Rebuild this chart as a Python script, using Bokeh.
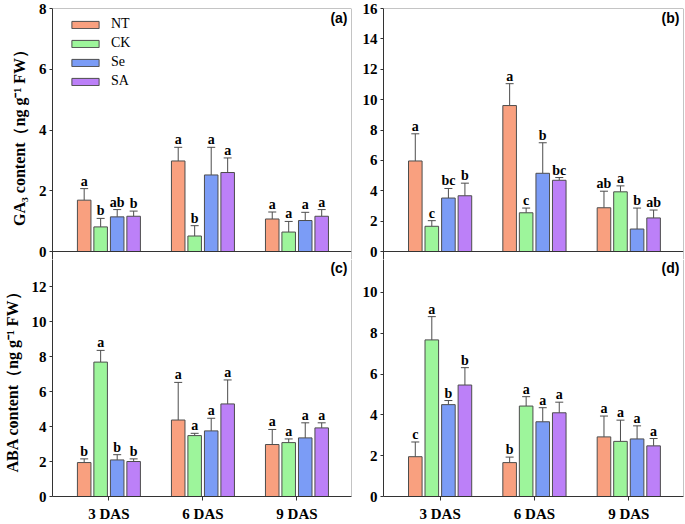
from bokeh.plotting import figure
from bokeh.models import (Range1d, FixedTicker, ColumnDataSource, Whisker, TeeHead,
                          Legend, LegendItem, Label, Span)
from bokeh.layouts import gridplot
from bokeh.core.properties import value
from bokeh.embed import file_html
from bokeh.resources import INLINE

SERIF = "Liberation Serif"
SANS = "Liberation Sans"

treatments = ["NT", "CK", "Se", "SA"]
colors = ["#F9A07F", "#9DF59B", "#7B9CF6", "#BC80F8"]
days = ["3 DAS", "6 DAS", "9 DAS"]

# rows = days, columns = treatments (NT, CK, Se, SA)
a_mean = [[1.69, 0.81, 1.14, 1.16], [2.98, 0.51, 2.52, 2.60], [1.07, 0.64, 1.02, 1.16]]
a_err = [[0.38, 0.28, 0.24, 0.17], [0.45, 0.34, 0.91, 0.48], [0.23, 0.35, 0.27, 0.22]]
a_sig = [["a", "b", "ab", "b"], ["a", "b", "a", "a"], ["a", "a", "a", "a"]]

b_mean = [[5.96, 1.66, 3.52, 3.67], [9.61, 2.55, 5.15, 4.69], [2.88, 3.93, 1.48, 2.21]]
b_err = [[1.79, 0.37, 0.63, 0.83], [1.44, 0.31, 2.01, 0.18], [1.09, 0.39, 1.38, 0.52]]
b_sig = [["a", "c", "bc", "b"], ["a", "c", "b", "bc"], ["ab", "a", "b", "ab"]]

c_mean = [[1.94, 7.68, 2.09, 2.00], [4.37, 3.48, 3.75, 5.29], [2.97, 3.08, 3.35, 3.92]]
c_err = [[0.21, 0.67, 0.30, 0.15], [2.15, 0.13, 0.72, 1.37], [0.86, 0.21, 0.86, 0.29]]
c_sig = [["b", "a", "b", "b"], ["a", "a", "a", "a"], ["a", "a", "a", "a"]]

d_mean = [[1.95, 7.67, 4.50, 5.46], [1.66, 4.43, 3.66, 4.10], [2.92, 2.70, 2.82, 2.48]]
d_err = [[0.72, 1.14, 0.20, 0.85], [0.27, 0.46, 0.69, 0.52], [1.02, 1.04, 0.64, 0.36]]
d_sig = [["c", "a", "b", "b"], ["b", "a", "a", "a"], ["a", "a", "a", "a"]]

a_ticks = [0, 2, 4, 6, 8]
b_ticks = [0, 2, 4, 6, 8, 10, 12, 14, 16]
c_ticks = [0, 2, 4, 6, 8, 10, 12]
d_ticks = [0, 2, 4, 6, 8, 10]
a_max, b_max, c_max, d_max = 8, 16, 14, 12

ga_label = "GA\u2083 content\uff08ng g\u207b\u00b9 FW\uff09"
aba_label = "ABA content\uff08ng g\u207b\u00b9 FW\uff09"

# layout (pixels)
TOP, ZERO, SPLIT, BOTTOM = 8, 251, 259, 496
XB = 28
LBL, RBL = 52, 31
LFW, RFW = 299, 300

offsets = [-0.263, -0.088, 0.088, 0.263]
BAR_W = 0.144
X0, X1 = -0.6, 2.58
AX = "#333333"
EDGE = "#4d4d4d"
OUT = "#8a8a8a"


def panel(mean, err, sig, y0, y1, yticks, tag, width, height, bl, bt, bb,
          ylabel=None, bottom=False):
    p = figure(width=width, height=height, x_range=Range1d(X0, X1),
               y_range=Range1d(y0, y1), output_backend="svg",
               toolbar_location=None, min_border_left=bl, min_border_right=1,
               min_border_top=bt, min_border_bottom=bb)
    p.xgrid.visible = False
    p.ygrid.visible = False
    p.background_fill_color = "white"
    p.border_fill_color = "white"
    p.outline_line_color = None
    renderers = []
    for j, t in enumerate(treatments):
        xs = [i + offsets[j] for i in range(len(days))]
        tops = [mean[i][j] for i in range(len(days))]
        ups = [mean[i][j] + err[i][j] for i in range(len(days))]
        labs = [sig[i][j] for i in range(len(days))]
        src = ColumnDataSource(dict(x=xs, top=tops, upper=ups, sig=labs))
        r = p.vbar(x="x", top="top", bottom=0, width=BAR_W, source=src,
                   fill_color=colors[j], line_color=EDGE, line_width=1)
        w = Whisker(source=src, base="x", lower="top", upper="upper",
                    line_color=EDGE, line_width=1,
                    upper_head=TeeHead(size=8, line_color=EDGE, line_width=1),
                    lower_head=None)
        p.add_layout(w)
        p.text(x="x", y="upper", text="sig", source=src, text_align="center",
               text_baseline="bottom", text_font=value(SERIF),
               text_font_style="bold", text_font_size="14px", text_color="black")
        renderers.append(r)

    ya = p.yaxis[0]
    ya.ticker = FixedTicker(ticks=yticks)
    ya.major_tick_out = 3
    ya.major_tick_in = 0
    ya.minor_tick_out = 0
    ya.minor_tick_in = 0
    ya.axis_line_color = AX
    ya.major_tick_line_color = AX
    ya.major_label_text_font = SERIF
    ya.major_label_text_font_style = "bold"
    ya.major_label_text_font_size = "15px"
    ya.major_label_text_color = "black"
    ya.major_label_standoff = 3
    if ylabel:
        ya.axis_label = ylabel
        ya.axis_label_text_font = SERIF
        ya.axis_label_text_font_style = "bold"
        ya.axis_label_text_font_size = "16px"
        ya.axis_label_text_color = "black"
        ya.axis_label_standoff = 8

    xa = p.xaxis[0]
    if bottom:
        xa.ticker = FixedTicker(ticks=[0, 1, 2])
        xa.major_label_overrides = {i: d for i, d in enumerate(days)}
        xa.major_tick_out = 4
        xa.major_tick_in = 0
        xa.minor_tick_out = 0
        xa.minor_tick_in = 0
        xa.axis_line_color = AX
        xa.major_tick_line_color = AX
        xa.major_label_text_font = SERIF
        xa.major_label_text_font_style = "bold"
        xa.major_label_text_font_size = "15px"
        xa.major_label_text_color = "black"
        xa.major_label_standoff = 5
        lab_off = 0
    else:
        xa.visible = False
        p.add_layout(Span(location=0, dimension="width", line_color=AX, line_width=1))
        p.add_layout(Span(location=y1, dimension="width", line_color=OUT, line_width=1))
        lab_off = -1
    p.add_layout(Span(location=X1, dimension="height", line_color=OUT, line_width=1))

    p.add_layout(Label(x=X1, y=y1, x_offset=-4, y_offset=lab_off, text=tag,
                       text_align="right", text_baseline="top",
                       text_font=SANS, text_font_style="bold",
                       text_font_size="14px", text_color="black"))
    return p, renderers


def top_range(ymax):
    pxu = (ZERO - TOP) / ymax
    return -(SPLIT - ZERO) / pxu, ymax


def bottom_range(ymax):
    pxu = (BOTTOM - ZERO) / ymax
    return 0, ymax - (SPLIT - ZERO) / pxu


LW, RW = LBL + LFW + 1, RBL + RFW + 1
TH = SPLIT
BH = BOTTOM - SPLIT + XB

pa, ra = panel(a_mean, a_err, a_sig, *top_range(a_max), a_ticks, "(a)", LW, TH, LBL, TOP, 0,
               ylabel=ga_label)
pb, _ = panel(b_mean, b_err, b_sig, *top_range(b_max), b_ticks, "(b)", RW, TH, RBL, TOP, 0)
pc, _ = panel(c_mean, c_err, c_sig, *bottom_range(c_max), c_ticks, "(c)", LW, BH, LBL, 0, XB,
              ylabel=aba_label, bottom=True)
pd, _ = panel(d_mean, d_err, d_sig, *bottom_range(d_max), d_ticks, "(d)", RW, BH, RBL, 0, XB,
              bottom=True)

legend = Legend(items=[LegendItem(label=t, renderers=[r]) for t, r in zip(treatments, ra)],
                location=(16, 170), border_line_color=None, background_fill_alpha=0,
                glyph_width=34, glyph_height=9, label_height=15, spacing=3,
                padding=0, margin=0, label_standoff=9,
                label_text_font=SERIF, label_text_font_size="14px",
                label_text_color="black")
pa.add_layout(legend)

grid = gridplot([[pa, pb], [pc, pd]], toolbar_location=None)

with open("out.html", "w") as f:
    f.write(file_html(grid, INLINE))
